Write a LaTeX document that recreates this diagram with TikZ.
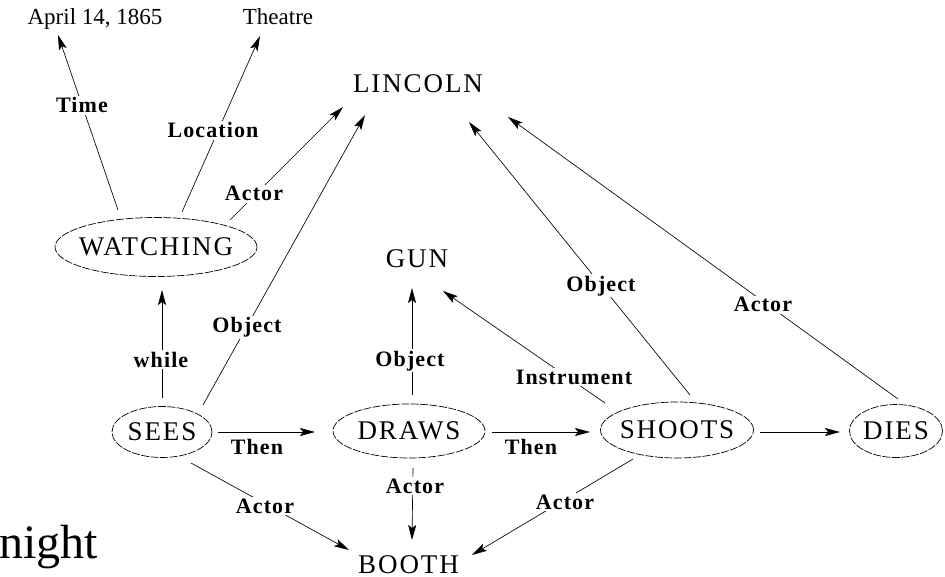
\documentclass[tikz,border=0pt]{standalone}
\usepackage{fontspec}
\setmainfont{Liberation Serif}
\newfontfamily\nodeff[LetterSpace=7]{Liberation Serif}
\newfontfamily\lblff[LetterSpace=5]{Liberation Serif}
\usetikzlibrary{arrows.meta,shapes.geometric}
\begin{document}
\begin{tikzpicture}[x=1pt,y=-1pt,
  ev/.style={ellipse, draw, dash pattern=on 8pt off 1.5pt, line width=0.7pt, inner sep=0pt,
             font=\nodeff\fontsize{27}{31}\selectfont},
  obj/.style={inner sep=0pt, anchor=base, font=\nodeff\fontsize{27}{31}\selectfont},
  small/.style={inner sep=0pt, anchor=base, font=\fontsize{23}{27}\selectfont},
  lbl/.style={inner sep=1.5pt, fill=white, anchor=base, font=\lblff\bfseries\fontsize{22}{26}\selectfont},
  arr/.style={line width=0.65pt, -{Stealth[length=15pt,width=8pt,inset=3pt]}}]
\useasboundingbox (0,0) rectangle (945,577);

% text-only nodes
\node[small] (april) at (95,25) {April 14, 1865};
\node[small] (theatre) at (278,25) {Theatre};
\node[obj] (lincoln) at (418,93) {LINCOLN};
\node[obj] (gun) at (417,268) {GUN};
\node[obj] (booth) at (408.5,573) {BOOTH};
\node[inner sep=0pt, anchor=base west, font=\fontsize{48}{52}\selectfont] (night) at (-1,558) {night};

% event ellipses
\node[ev, minimum width=202pt, minimum height=59pt] (watching) at (156,247) {\makebox[0pt]{WATCHING}};
\node[ev, minimum width=100pt, minimum height=51pt] (sees) at (162,432) {\makebox[0pt]{SEES}};
\node[ev, minimum width=152pt, minimum height=54pt] (draws) at (409,431) {\makebox[0pt]{DRAWS}};
\node[ev, minimum width=153pt, minimum height=56pt] (shoots) at (677,430) {\makebox[0pt]{SHOOTS}};
\node[ev, minimum width=93pt, minimum height=53pt] (dies) at (896,431) {\makebox[0pt]{DIES}};

% connectors
\draw[arr] ([shift={(-38,-37)}]watching.center) -- ([shift={(-37,10)}]april.base);
\draw[arr] ([shift={(26,-35)}]watching.center) -- ([shift={(-18,11)}]theatre.base);
\draw[arr] ([shift={(74,-27)}]watching.center) -- ([shift={(-75,14)}]lincoln.base);
\draw[arr] ([shift={(41,-27)}]sees.center) -- ([shift={(-53,22)}]lincoln.base);
\draw[arr] ([shift={(0,-34)}]sees.center) -- ([shift={(6,43)}]watching.center);
\draw[arr] ([shift={(56,0)}]sees.center) -- ([shift={(-94,1)}]draws.center);
\draw[arr] ([shift={(29,31)}]sees.center) -- ([shift={(-59.5,-23)}]booth.base);
\draw[arr] ([shift={(3,-36)}]draws.center) -- ([shift={(-5,20)}]gun.base);
\draw[arr] ([shift={(4,37)}]draws.center) -- ([shift={(3.5,-33)}]booth.base);
\draw[arr] ([shift={(83,1)}]draws.center) -- ([shift={(-87,2)}]shoots.center);
\draw[arr] ([shift={(-72,-27)}]shoots.center) -- ([shift={(26,23)}]gun.base);
\draw[arr] ([shift={(13,-35)}]shoots.center) -- ([shift={(51,29)}]lincoln.base);
\draw[arr] ([shift={(-44,29)}]shoots.center) -- ([shift={(63.5,-18)}]booth.base);
\draw[arr] ([shift={(83,2)}]shoots.center) -- ([shift={(-56,1)}]dies.center);
\draw[arr] ([shift={(2,-32)}]dies.center) -- ([shift={(90,24)}]lincoln.base);

% labels
\node[lbl] (l1) at (82,113) {Time};
\node[lbl] (l2) at (213,138) {Location};
\node[lbl] (l3) at (254,201) {Actor};
\node[lbl] (l4) at (247,333) {Object};
\node[lbl] (l5) at (161,367) {while};
\node[lbl] (l6) at (257,454) {Then};
\node[lbl] (l7) at (265,513) {Actor};
\node[lbl] (l8) at (410,366) {Object};
\node[lbl] (l9) at (415,493) {Actor};
\node[lbl] (l10) at (531,454) {Then};
\node[lbl] (l11) at (574,384) {Instrument};
\node[lbl] (l12) at (601,291) {Object};
\node[lbl] (l13) at (763,312) {Actor};
\node[lbl] (l14) at (565,509) {Actor};
\end{tikzpicture}
\end{document}
